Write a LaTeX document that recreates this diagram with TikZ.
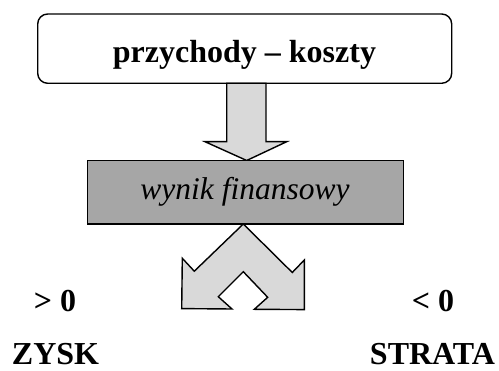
\documentclass[tikz,border=0pt]{standalone}
\usepackage{fontspec}
\setmainfont{Liberation Serif}
\definecolor{arrowgray}{HTML}{D9D9D9}
\definecolor{boxgray}{HTML}{A6A6A6}
\begin{document}
\begin{tikzpicture}[x=1pt,y=-1pt,
  outline/.style={draw=black,line width=1.4pt,line join=miter},
  lbl/.style={font=\fontsize{32}{37}\selectfont\bfseries,anchor=base,inner sep=0pt},
  ]
\useasboundingbox (0,0) rectangle (499,371);
% top box
\draw[outline,fill=white,rounded corners=10pt] (37.7,14) rectangle (451.7,83.3);
\node[lbl] (top) at (244.5,63) {przychody -- koszty};
% down arrow
\draw[outline,fill=arrowgray] (226.7,83.3) -- (226.7,141.7) -- (205,141.7) -- (246.7,160.5)
  -- (286.7,141.7) -- (266,141.7) -- (266,83.3) -- cycle;
% gray box
\draw[outline,fill=boxgray] (87.3,160.7) rectangle (403.3,224);
\node[lbl,font=\fontsize{31.5}{36}\selectfont\itshape] (mid) at (245,199.3) {wynik finansowy};
% split arrow
\draw[outline,fill=arrowgray] (243.3,224) -- (194.3,271.2) -- (182.3,258.3) -- (181.7,308.6)
  -- (232,309) -- (218.3,296.7) -- (243.3,271.7) -- (267.7,297.3) -- (254.3,309.3)
  -- (304.3,309.6) -- (304.3,260) -- (292.3,272.5) -- cycle;
% labels
\node[lbl] (gt) at (55,311.7) {> 0};
\node[lbl] (lt) at (433,311.7) {< 0};
\node[lbl] (zysk) at (55.5,365) {ZYSK};
\node[lbl] (strata) at (432.5,365) {STRATA};
\end{tikzpicture}
\end{document}
